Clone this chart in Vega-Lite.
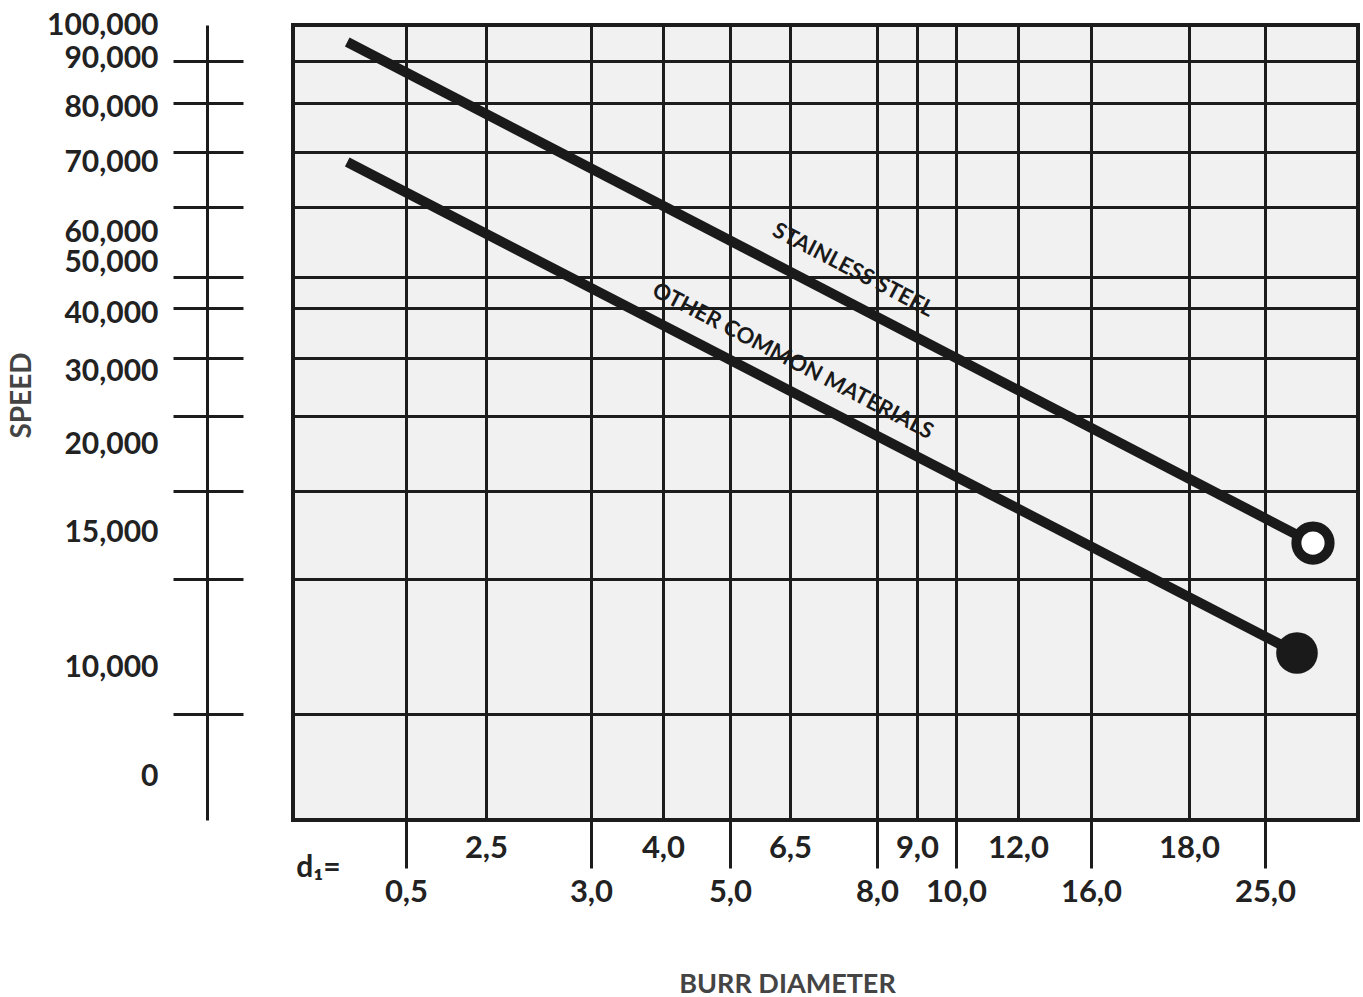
{
  "$schema": "https://vega.github.io/schema/vega-lite/v6.json",
  "width": 1065,
  "height": 795,
  "autosize": {"type": "none"},
  "padding": {"left": 293, "top": 25, "right": 5, "bottom": 177},
  "background": "white",
  "config": {
    "view": {"fill": "#f1f1f1", "stroke": "#1c1c1c", "strokeWidth": 4},
    "axis": {"labelOverlap": false, "labelFlush": false, "labelBound": false}
  },
  "datasets": {
    "lines": [
      {"material": "Stainless steel", "diameter": 0.24, "speed": 94850},
      {"material": "Stainless steel", "diameter": 27.58, "speed": 14590},
      {"material": "Other common materials", "diameter": 0.24, "speed": 70000},
      {"material": "Other common materials", "diameter": 26.72, "speed": 10520}
    ],
    "labels": [
      {"label": "STAINLESS STEEL", "diameter": 7.59, "speed": 48430},
      {"label": "OTHER COMMON MATERIALS", "diameter": 6.55, "speed": 31720}
    ]
  },
  "layer": [
    {
      "data": {"name": "lines"},
      "mark": {"type": "line", "stroke": "#1a1a1a", "strokeWidth": 10, "strokeCap": "butt"},
      "encoding": {
        "x": {
          "field": "diameter", "type": "quantitative",
          "scale": {"domain": [0, 0.5, 2.5, 3, 4, 5, 6.5, 8, 9, 10, 12, 16, 18, 25, 30], "range": [0, 113, 193, 298, 370, 437, 497, 584, 624, 663, 725, 798, 896, 972, 1065], "nice": false, "zero": false},
          "axis": {"orient": "bottom", "values": [0.5, 2.5, 3, 4, 5, 6.5, 8, 9, 10, 12, 16, 18, 25], "grid": true, "gridColor": "#1c1c1c", "gridWidth": 3, "gridOpacity": 1, "ticks": false, "labels": false, "domain": false, "title": null}
        },
        "y": {
          "field": "speed", "type": "quantitative",
          "scale": {"domain": [-4000, 0, 10000, 15000, 20000, 30000, 40000, 50000, 60000, 70000, 80000, 90000, 100000], "range": [795, 751, 642, 507, 419, 346, 288, 237, 207, 137, 82, 33, 0], "nice": false, "zero": false},
          "axis": {"orient": "left", "values": [5690, 13260, 17330, 23840, 32240, 40980, 47060, 63570, 71820, 80820, 89390], "grid": true, "gridColor": "#1c1c1c", "gridWidth": 3, "gridOpacity": 1, "ticks": false, "labels": false, "domain": false, "title": null}
        },
        "detail": {"field": "material"}
      }
    },
    {
      "data": {"name": "lines"},
      "transform": [{"filter": "datum.material == 'Stainless steel' && datum.diameter > 20"}],
      "mark": {"type": "point", "shape": "circle", "filled": false, "fill": "white", "fillOpacity": 1, "stroke": "#1a1a1a", "strokeWidth": 10, "size": 1104, "opacity": 1},
      "encoding": {
        "x": {
          "field": "diameter", "type": "quantitative",
          "axis": {"orient": "bottom", "values": [0.5, 3, 5, 8, 10, 16, 25], "grid": false, "domain": false, "ticks": true, "tickSize": 48, "tickWidth": 3, "tickColor": "#1c1c1c",
            "labels": true, "labelExpr": "replace(format(datum.value, '.1f'), '.', ',')", "labelFont": "Lato", "labelFontSize": 31, "labelFontWeight": "bold", "labelColor": "#222222", "labelBaseline": "alphabetic", "labelAlign": "center", "labelPadding": 33,
            "title": "BURR DIAMETER", "titleX": 494, "titleY": 172, "titleAlign": "center", "titleBaseline": "alphabetic", "titleFont": "Lato", "titleFontSize": 27, "titleFontWeight": "bold", "titleColor": "#444444"}
        },
        "y": {
          "field": "speed", "type": "quantitative",
          "axis": {"orient": "left", "offset": 86, "values": [5690, 13260, 17330, 23840, 32240, 40980, 47060, 63570, 71820, 80820, 89390], "grid": false, "domain": true, "domainColor": "#1c1c1c", "domainWidth": 3, "ticks": true, "tickSize": 34, "tickWidth": 3, "tickColor": "#1c1c1c", "labels": false,
            "title": "SPEED", "titleX": -185, "titleY": 370, "titleAngle": -90, "titleAlign": "center", "titleBaseline": "middle", "titleFont": "Lato", "titleFontSize": 28, "titleFontWeight": "bold", "titleColor": "#444444"}
        }
      }
    },
    {
      "data": {"name": "lines"},
      "transform": [{"filter": "datum.material == 'Other common materials' && datum.diameter > 20"}],
      "mark": {"type": "point", "shape": "circle", "filled": true, "fill": "#1a1a1a", "stroke": null, "size": 1735, "opacity": 1},
      "encoding": {
        "x": {
          "field": "diameter", "type": "quantitative",
          "axis": {"orient": "bottom", "values": [2.5, 4, 6.5, 9, 12, 18], "grid": false, "domain": false, "ticks": false,
            "labels": true, "labelExpr": "replace(format(datum.value, '.1f'), '.', ',')", "labelFont": "Lato", "labelFontSize": 31, "labelFontWeight": "bold", "labelColor": "#222222", "labelBaseline": "alphabetic", "labelAlign": "center", "labelPadding": 37,
            "title": "d₁=", "titleX": 25, "titleY": 56, "titleAlign": "center", "titleBaseline": "alphabetic", "titleFont": "Lato", "titleFontSize": 30, "titleFontWeight": "bold", "titleColor": "#222222"}
        },
        "y": {
          "field": "speed", "type": "quantitative",
          "axis": {"orient": "left", "offset": 86, "values": [5690, 13260, 17330, 23840, 32240, 40980, 47060, 63570, 71820, 80820, 89390], "grid": false, "domain": false, "ticks": true, "tickSize": -36, "tickWidth": 3, "tickColor": "#1c1c1c", "labels": false, "title": null}
        }
      }
    },
    {
      "data": {"name": "labels"},
      "mark": {"type": "text", "angle": 27.5, "align": "center", "baseline": "middle", "font": "Lato", "fontSize": 22, "fontWeight": "bold", "color": "#1a1a1a"},
      "encoding": {
        "x": {"field": "diameter", "type": "quantitative", "axis": null},
        "y": {
          "field": "speed", "type": "quantitative",
          "axis": {"orient": "left", "offset": 86, "values": [0, 10000, 15000, 20000, 30000, 40000, 50000, 60000, 70000, 80000, 90000, 100000], "format": ",.0f", "grid": false, "domain": false, "ticks": false,
            "labels": true, "labelFont": "Lato", "labelFontSize": 30, "labelFontWeight": "bold", "labelColor": "#222222", "labelAlign": "right", "labelBaseline": "middle", "labelPadding": 49, "title": null}
        },
        "text": {"field": "label"}
      }
    }
  ],
  "resolve": {"axis": {"x": "independent", "y": "independent"}}
}
